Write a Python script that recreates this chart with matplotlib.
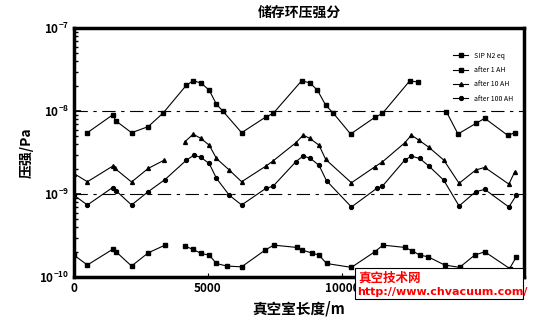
import numpy as np
import matplotlib
matplotlib.use("Agg")
import matplotlib.pyplot as plt
from matplotlib.patches import Rectangle

plt.rcParams["font.family"] = ["Noto Sans CJK SC", "DejaVu Sans"]
plt.rcParams["axes.unicode_minus"] = False

nan = np.nan

# 真空室长度 (m) / 压强 (Pa)
x_1ah = [500, 1440, 1570, 2150, 2770, 3330, 4200, 4450, 4740, 5050, 5320, 5550,
         6260, 7160, 7440, 8500, 8810, 9090, 9400, 9680, 10330, 11230, 11520,
         12540, 12850, nan, 13910, 14340, 15000, 15340, 16200, 16460]
p_1ah = [5.5e-9, 9.0e-9, 7.6e-9, 5.5e-9, 6.5e-9, 9.5e-9, 2.06e-8, 2.32e-8, 2.19e-8,
         1.79e-8, 1.21e-8, 1.01e-8, 5.5e-9, 8.5e-9, 9.4e-9, 2.32e-8, 2.19e-8, 1.79e-8,
         1.18e-8, 9.5e-9, 5.3e-9, 8.4e-9, 9.4e-9, 2.32e-8, 2.24e-8, nan, 9.8e-9,
         5.3e-9, 7.1e-9, 8.2e-9, 5.1e-9, 5.5e-9]

x_10ah = [0, 500, 1440, 1530, 2150, 2770, 3370, nan, 4140, 4450, 4740, 5050, 5320,
          5800, 6260, 7160, 7440, 8280, 8560, 8810, 9150, 9400, 10360, 11230, 11520,
          12350, 12600, 12880, 13260, 13810, 14380, 15000, 15340, 16240, 16460]
p_10ah = [1.77e-9, 1.41e-9, 2.17e-9, 2.04e-9, 1.40e-9, 2.04e-9, 2.57e-9, nan, 4.27e-9,
          5.28e-9, 4.69e-9, 3.89e-9, 2.69e-9, 1.95e-9, 1.41e-9, 2.17e-9, 2.52e-9,
          4.15e-9, 5.14e-9, 4.69e-9, 3.89e-9, 2.62e-9, 1.37e-9, 2.13e-9, 2.45e-9,
          4.15e-9, 5.14e-9, 4.47e-9, 3.65e-9, 2.57e-9, 1.35e-9, 1.95e-9, 2.10e-9,
          1.32e-9, 1.86e-9]

x_100ah = [0, 500, 1440, 1570, 2150, 2770, 3400, 4200, 4480, 4740, 5050, 5320, 5800,
           6260, 7160, 7440, 8280, 8560, 8830, 9150, 9430, 10360, 11300, 11520, 12350,
           12600, 12910, 13260, 13810, 14380, 15000, 15340, 16240, 16520]
p_100ah = [9.7e-10, 7.4e-10, 1.20e-9, 1.10e-9, 7.4e-10, 1.07e-9, 1.50e-9, 2.57e-9,
           2.95e-9, 2.77e-9, 2.34e-9, 1.55e-9, 9.7e-10, 7.4e-10, 1.17e-9, 1.25e-9,
           2.45e-9, 2.89e-9, 2.69e-9, 2.23e-9, 1.45e-9, 7.0e-10, 1.17e-9, 1.25e-9,
           2.57e-9, 2.87e-9, 2.69e-9, 2.17e-9, 1.47e-9, 7.2e-10, 1.07e-9, 1.14e-9,
           7.0e-10, 9.7e-10]

x_sip = [0, 500, 1440, 1570, 2150, 2770, 3400, nan, 4140, 4450, 4740, 5050, 5320,
         5700, 6260, 7130, 7460, 8310, 8530, 8870, 9150, 9430, 10360, 11230, 11540,
         12350, 12640, 12910, 13220, 13840, 14400, 14960, 15340, 16270, 16520]
p_sip = [1.84e-10, 1.40e-10, 2.16e-10, 2.02e-10, 1.36e-10, 1.96e-10, 2.43e-10, nan,
         2.36e-10, 2.16e-10, 1.93e-10, 1.84e-10, 1.46e-10, 1.36e-10, 1.33e-10,
         2.11e-10, 2.43e-10, 2.28e-10, 2.11e-10, 1.96e-10, 1.84e-10, 1.46e-10,
         1.31e-10, 2.02e-10, 2.43e-10, 2.28e-10, 2.07e-10, 1.84e-10, 1.76e-10,
         1.40e-10, 1.31e-10, 1.84e-10, 2.02e-10, 1.27e-10, 1.76e-10]

ref_levels = [1e-8, 1e-9]

fig = plt.figure(figsize=(5.44, 3.2), dpi=100)
ax = fig.add_axes([0.136, 0.134, 0.827, 0.778])

ax.plot(x_sip, p_sip, color="black", lw=0.8, marker="s", ms=2.5, label="SIP N2 eq")
ax.plot(x_1ah, p_1ah, color="black", lw=0.8, marker="s", ms=2.5, label="after 1 AH")
ax.plot(x_10ah, p_10ah, color="black", lw=0.8, marker="^", ms=2.8, label="after 10 AH")
ax.plot(x_100ah, p_100ah, color="black", lw=0.8, marker="o", ms=2.8, label="after 100 AH")
for lv in ref_levels:
    ax.axhline(lv, color="black", lw=0.8, linestyle=(0, (12, 5, 3, 5)))

ax.set_yscale("log")
ax.set_xlim(0, 16800)
ax.set_ylim(1e-10, 1e-7)
ax.set_xticks([0, 5000, 10000, 15000])
ax.tick_params(axis="both", which="both", direction="in", labelsize=8.5)
ax.tick_params(axis="y", which="major", length=5, width=1.2)
ax.tick_params(axis="y", which="minor", length=3, width=1.0)
ax.tick_params(axis="x", length=3)
for lab in ax.get_xticklabels() + ax.get_yticklabels():
    lab.set_fontweight("bold")
for sp in ax.spines.values():
    sp.set_linewidth(2.5)

ax.set_title("储存环压强分", fontsize=10, fontweight="bold", pad=8)
ax.set_xlabel("真空室长度/m", fontsize=10.5, fontweight="bold", labelpad=4)
ax.set_ylabel("压强/Pa", fontsize=10, fontweight="bold")

ax.legend(loc="upper right", frameon=False, fontsize=5, handlelength=2.2,
          labelspacing=0.9, bbox_to_anchor=(0.99, 0.93))

# 水印框
fig.patches.append(Rectangle((355 / 544, 1 - 299 / 320), 168 / 544, 31 / 320,
                             transform=fig.transFigure, facecolor="white",
                             edgecolor="black", lw=0.8, zorder=5))
fig.text(358 / 544, 1 - 278 / 320, "真空技术网", color="red", fontsize=9,
         fontweight="bold", va="center", zorder=6)
fig.text(357 / 544, 1 - 292 / 320, "http://www.chvacuum.com/", color="red",
         fontsize=8, fontweight="bold", family="DejaVu Sans", va="center", zorder=6)

fig.savefig("out.png", dpi=100)
